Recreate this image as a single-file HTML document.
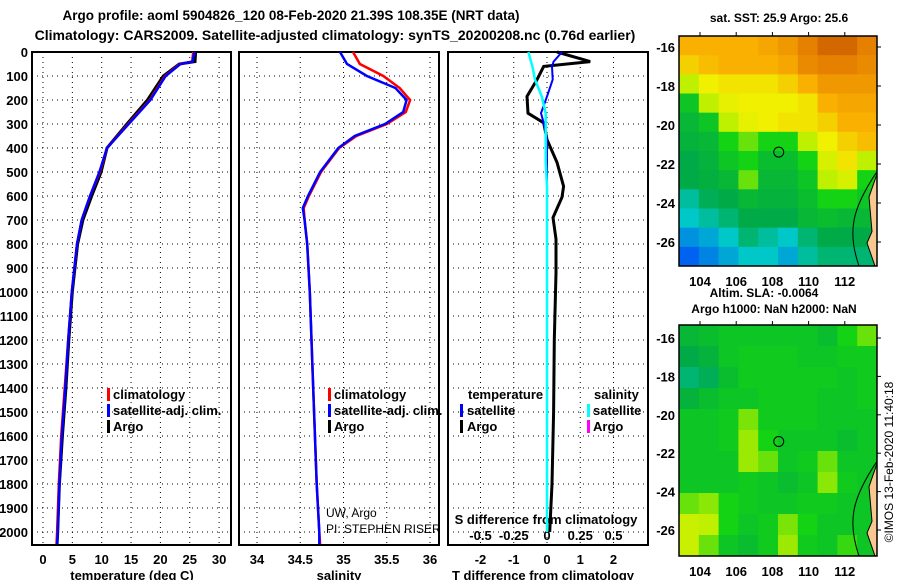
<!DOCTYPE html>
<html><head><meta charset="utf-8"><style>
body{margin:0;background:#fff;}
svg{display:block;font-family:"Liberation Sans",sans-serif;font-weight:bold;}
</style></head><body>
<svg id="fig" width="900" height="580" viewBox="0 0 900 580">
<rect width="900" height="580" fill="#fff"/>
<text x="291" y="20" font-size="13.5" text-anchor="middle">Argo profile: aoml 5904826_120 08-Feb-2020 21.39S 108.35E (NRT data)</text>
<text x="335" y="40" font-size="14" text-anchor="middle">Climatology: CARS2009. Satellite-adjusted climatology: synTS_20200208.nc (0.76d earlier)</text>
<g id="g"></g>
</svg>
<script>
// ---------- data ----------
const depthT = [0,40,50,100,200,300,400,500,600,700,800,1000,1200,1400,1600,1800,2000,2050];
const tempClim = [25.6,25.4,23.3,20.8,18.2,14.5,10.9,9.7,8.0,6.6,5.8,4.9,4.3,3.7,3.1,2.7,2.4,2.3];
const tempSat  = [25.8,25.5,23.4,20.9,18.3,14.6,10.9,9.6,8.0,6.6,5.8,4.9,4.3,3.8,3.2,2.8,2.5,2.4];
const tempArgo = [26.0,25.9,23.2,20.5,17.8,14.3,10.9,9.9,8.3,6.8,5.9,5.0,4.4,3.9,3.3,2.8,2.5,2.4];
const depthS = [0,50,100,150,200,250,300,350,400,500,600,650,700,800,1000,1400,1800,2000,2050];
const salClim = [35.11,35.19,35.46,35.65,35.77,35.72,35.50,35.15,34.95,34.74,34.60,34.54,34.55,34.58,34.61,34.65,34.69,34.72,34.73];
const salSat  = [34.96,35.04,35.27,35.60,35.73,35.69,35.48,35.13,34.94,34.73,34.59,34.53,34.55,34.58,34.61,34.65,34.69,34.72,34.72];
const depthD = [0,40,60,115,185,255,295,365,460,560,605,690,780,920,1200,1500,1800,2000];
const tDiffArgo = [0.3,1.3,-0.1,-0.3,-0.6,-0.57,-0.1,0.0,0.3,0.5,0.45,0.18,0.27,0.27,0.22,0.2,0.15,0.08];
const tDiffSat  = [0.45,0.2,0.15,0.17,0.0,-0.18,-0.1,0.0,0.0,0.0,0.0,0.0,0.0,0.0,0.0,0.0,0.0,0.0];
const sDiffSat  = [-0.14,-0.12,-0.11,-0.09,-0.04,-0.01,-0.01,-0.01,-0.01,0,0,0,0,0,0,0,0,0];
const tTicks = [0,5,10,15,20,25,30];
const sTicks = [34,34.5,35,35.5,36];
const dTicks = [-2,-1,0,1,2];
const sdTicks = [-0.5,-0.25,0,0.25,0.5];
const depthTicks = [0,100,200,300,400,500,600,700,800,900,1000,1100,1200,1300,1400,1500,1600,1700,1800,1900,2000];
const latTicks = [-16,-18,-20,-22,-24,-26];
const lonTicks = [104,106,108,110,112];
const sstGrid = [
[0.8,0.8,0.8,0.8,0.82,0.85,0.9,0.95,0.95,0.9],
[0.75,0.78,0.8,0.8,0.8,0.82,0.88,0.9,0.9,0.88],
[0.6,0.7,0.72,0.72,0.72,0.75,0.8,0.85,0.85,0.85],
[0.45,0.6,0.68,0.7,0.7,0.7,0.72,0.8,0.82,0.82],
[0.4,0.45,0.6,0.68,0.7,0.72,0.72,0.75,0.8,0.8],
[0.38,0.4,0.5,0.55,0.5,0.5,0.6,0.7,0.75,0.78],
[0.35,0.38,0.45,0.5,0.42,0.42,0.5,0.65,0.72,0.6],
[0.35,0.37,0.4,0.55,0.4,0.4,0.45,0.6,0.65,0.5],
[0.25,0.33,0.35,0.4,0.38,0.38,0.42,0.5,0.5,0.45],
[0.2,0.25,0.3,0.35,0.35,0.35,0.4,0.42,0.4,0.4],
[0.12,0.15,0.2,0.3,0.25,0.2,0.3,0.35,0.35,0.35],
[0.05,0.1,0.15,0.2,0.2,0.15,0.25,0.3,0.3,0.3]];
const slaGrid = [
[0.4,0.42,0.45,0.45,0.45,0.45,0.45,0.42,0.5,0.55],
[0.35,0.38,0.45,0.47,0.47,0.47,0.45,0.45,0.47,0.47],
[0.3,0.33,0.42,0.47,0.47,0.47,0.47,0.47,0.45,0.47],
[0.38,0.42,0.45,0.45,0.47,0.47,0.47,0.45,0.45,0.47],
[0.45,0.45,0.47,0.56,0.47,0.47,0.47,0.45,0.45,0.45],
[0.45,0.45,0.47,0.58,0.5,0.45,0.45,0.45,0.42,0.45],
[0.45,0.45,0.45,0.58,0.55,0.45,0.47,0.55,0.45,0.45],
[0.45,0.45,0.45,0.47,0.45,0.42,0.45,0.57,0.47,0.45],
[0.55,0.57,0.5,0.47,0.45,0.45,0.47,0.47,0.45,0.45],
[0.62,0.6,0.5,0.45,0.47,0.56,0.5,0.45,0.45,0.45],
[0.62,0.55,0.45,0.42,0.47,0.58,0.47,0.45,0.52,0.45]];

// ---------- helpers ----------
const NS="http://www.w3.org/2000/svg";
const G=document.getElementById('g');
function mk(t,a,parent){const e=document.createElementNS(NS,t);for(const k in a)e.setAttribute(k,a[k]);(parent||G).appendChild(e);return e;}
const yTop=52, pxPerM=0.24;
const yD=d=>yTop+d*pxPerM;
const xT=t=>43+t*5.87;
const xS=s=>257+(s-34)*86.5;
const xTd=v=>547+v*33.25;
const xSd=v=>547+v*133;

function panel(x0,x1,name){
  const r=mk('rect',{x:x0,y:yTop,width:x1-x0,height:545-yTop,fill:'none',stroke:'#000','stroke-width':2});
  
  
  depthTicks.forEach(d=>{
    const l=mk('line',{x1:x0,x2:x1,y1:yD(d),y2:yD(d),stroke:'#000','stroke-dasharray':'1,4'});
    
    
  });
}
function vgrid(xs,y0,y1){xs.forEach(x=>{const l=mk('line',{x1:x,x2:x,y1:y0,y2:y1,stroke:'#000','stroke-dasharray':'1,4'});
  
  });}
function line(depths,vals,fx,color,name,w){
  const p=depths.map((d,i)=>fx(vals[i]).toFixed(1)+','+yD(d).toFixed(1)).join(' ');
  const e=mk('polyline',{points:p,fill:'none',stroke:color,'stroke-width':w||2.5});
  
  
}
function txt(x,y,s,size,anchor,name,extra){
  const e=mk('text',Object.assign({x:x,y:y,'font-size':size,'text-anchor':anchor||'start'},extra||{}));
  e.textContent=s;
  
  
  return e;
}
function legendMark(x,y,color){const e=mk('rect',{x:x,y:y-12,width:3,height:13,fill:color});
  
  }

// panel 1 temperature
panel(32,231,'temperature-panel');
vgrid(tTicks.map(xT),yTop,545);
depthTicks.forEach(d=>txt(28,yD(d)+5,String(d),13,'end','depth-tick-label'));
tTicks.forEach(t=>txt(xT(t),564,String(t),13,'middle','temperature-tick-label'));
txt(132,580,'temperature (deg C)',13,'middle','temperature-axis-title');
line(depthT,tempArgo,xT,'#000','argo-temperature-line',3);
line(depthT,tempClim,xT,'#f00','climatology-temperature-line');
line(depthT,tempSat,xT,'#00f','satellite-temperature-line');
legendMark(107,400,'#f00');txt(113,399,'climatology',13,'start','legend-climatology');
legendMark(107,416,'#00f');txt(113,415,'satellite-adj. clim.',13,'start','legend-satellite');
legendMark(107,432,'#000');txt(113,431,'Argo',13,'start','legend-argo');

// panel 2 salinity
panel(239,439,'salinity-panel');
vgrid(sTicks.map(xS),yTop,545);
sTicks.forEach(s=>txt(xS(s),564,String(s),13,'middle','salinity-tick-label'));
txt(339,580,'salinity',13,'middle','salinity-axis-title');
line(depthS,salClim,xS,'#f00','climatology-salinity-line');
line(depthS,salSat,xS,'#00f','satellite-salinity-line');
legendMark(328,400,'#f00');txt(334,399,'climatology',13,'start','legend-climatology');
legendMark(328,416,'#00f');txt(334,415,'satellite-adj. clim.',13,'start','legend-satellite');
legendMark(328,432,'#000');txt(334,431,'Argo',13,'start','legend-argo');
txt(326,517,'UW, Argo',12,'start','data-source',{'font-weight':'normal'});
txt(326,533,'PI: STEPHEN RISER',12,'start','pi-name',{'font-weight':'normal'});

// panel 3 differences
panel(448,648,'difference-panel');
vgrid(dTicks.map(xTd),yTop,545);
dTicks.forEach(v=>txt(xTd(v),564,String(v),13,'middle','tdiff-tick-label'));
txt(543,580,'T difference from climatology',13,'middle','tdiff-axis-title');
txt(546,524,'S difference from climatology',13,'middle','sdiff-axis-title');
sdTicks.forEach(v=>txt(xSd(v),540,String(v),13,'middle','sdiff-tick-label'));
line(depthD,tDiffArgo,xTd,'#000','argo-tdiff-line',3);
line(depthD,tDiffSat,xTd,'#00f','satellite-tdiff-line',2);
line(depthD,sDiffSat,xSd,'#0ff','satellite-sdiff-line',2.5);
txt(468,399,'temperature',13,'start','legend-temperature-heading');
legendMark(460,416,'#00f');txt(467,415,'satellite',13,'start','legend-t-satellite');
legendMark(460,432,'#000');txt(467,431,'Argo',13,'start','legend-t-argo');
txt(594,399,'salinity',13,'start','legend-salinity-heading');
legendMark(587,416,'#0ff');txt(593,415,'satellite',13,'start','legend-s-satellite');
legendMark(587,432,'#f0f');txt(593,431,'Argo',13,'start','legend-s-argo');

// maps
function cmap(v){
  const stops=[[0,[0,64,255]],[0.2,[0,200,200]],[0.35,[0,170,70]],[0.5,[20,210,20]],[0.6,[190,240,0]],[0.7,[240,240,0]],[0.8,[250,176,0]],[0.9,[230,128,0]],[1,[192,80,0]]];
  for(let i=1;i<stops.length;i++){if(v<=stops[i][0]){const a=stops[i-1],b=stops[i],f=(v-a[0])/(b[0]-a[0]);
    return 'rgb('+a[1].map((c,k)=>Math.round(c+(b[1][k]-c)*f)).join(',')+')';}}
  return 'rgb(192,80,0)';
}
function map(grid,x0,y0,w,h,latY16,latY26,name){
  const rows=grid.length, cols=grid[0].length, cw=w/cols, ch=h/rows;
  grid.forEach((row,r)=>row.forEach((v,c)=>{
    const e=mk('rect',{x:x0+c*cw,y:y0+r*ch,width:cw+0.5,height:ch+0.5,fill:cmap(v)});
    
    
  }));
  const land=mk('path',{d:`M${x0+w} ${y0+h*0.6} L${x0+w-8} ${y0+h*0.7} L${x0+w-5} ${y0+h*0.85} L${x0+w-10} ${y0+h*0.9} L${x0+w-2} ${y0+h} L${x0+w} ${y0+h} Z`,fill:'#f8c890',stroke:'#000','stroke-width':1});
  
  
  const iso=mk('path',{d:`M${x0+w} ${y0+h*0.59} C${x0+w-25} ${y0+h*0.75},${x0+w-30} ${y0+h*0.85},${x0+w-18} ${y0+h}`,fill:'none',stroke:'#000','stroke-width':1});
  
  
  const fr=mk('rect',{x:x0,y:y0,width:w,height:h,fill:'none',stroke:'#000','stroke-width':1.5});
  
  
  const ly=l=>latY16+(l+16)*(latY26-latY16)/(-10);
  const lx=l=>x0+21+(l-104)*18.1;
  latTicks.forEach(l=>{txt(x0-4,ly(l)+5,String(l),13,'end','latitude-tick-label');
    mk('line',{x1:x0+w,x2:x0+w+4,y1:ly(l),y2:ly(l),stroke:'#000'});});
  lonTicks.forEach(l=>{txt(lx(l),y0+h+20,String(l),13,'middle','longitude-tick-label');
    mk('line',{x1:lx(l),x2:lx(l),y1:y0,y2:y0-4,stroke:'#000'});});
  const c=mk('circle',{cx:lx(108.35),cy:ly(-21.39),r:5,fill:'none',stroke:'#000','stroke-width':1});
  
  
}
txt(779,22,'sat. SST: 25.9 Argo: 25.6',12,'middle','sst-map-title');
map(sstGrid,679,36,198,230,47,242,'sst-map');
txt(764,297,'Altim. SLA: -0.0064',12,'middle','sla-title');
txt(774,313,'Argo h1000: NaN h2000: NaN',12,'middle','argo-height-title');
map(slaGrid,679,325,198,231,338,530,'sla-map');
txt(893,462,'©IMOS 13-Feb-2020 11:40:18',12,'middle','imos-credit',{'font-weight':'normal',transform:'rotate(-90 893 462)'});
</script>
</body></html>
